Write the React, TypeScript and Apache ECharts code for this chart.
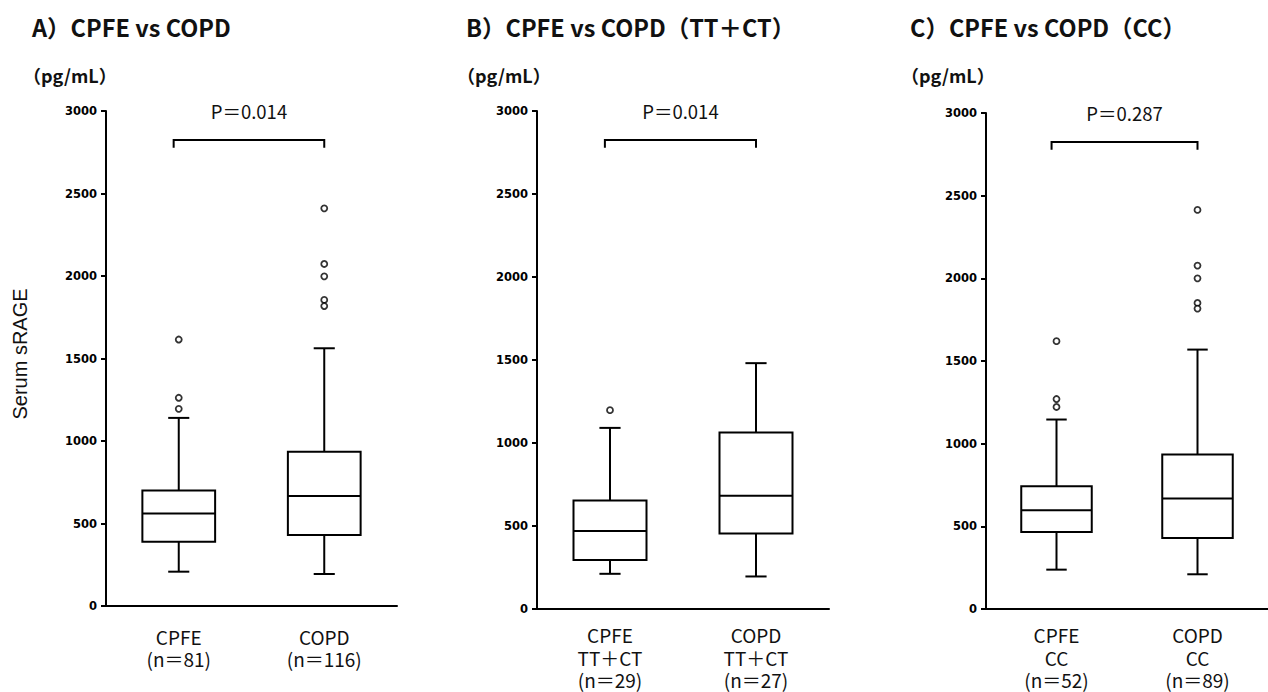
import React, { useEffect, useRef } from "react";
import * as echarts from "echarts";

// ---------- data ----------
const titles = ["A）CPFE vs COPD", "B）CPFE vs COPD（TT＋CT）", "C）CPFE vs COPD（CC）"];
const unitLabel = "（pg/mL）";
const yAxisTitle = "Serum sRAGE";
const yTicks = { min: 0, max: 3000, interval: 500 };

const categoriesA = ["CPFE\n(n＝81)", "COPD\n(n＝116)"];
const categoriesB = ["CPFE\nTT＋CT\n(n＝29)", "COPD\nTT＋CT\n(n＝27)"];
const categoriesC = ["CPFE\nCC\n(n＝52)", "COPD\nCC\n(n＝89)"];

// [min whisker, Q1, median, Q3, max whisker]
const boxesA = [[208, 390, 560, 700, 1140], [194, 430, 667, 935, 1562]];
const boxesB = [[212, 295, 470, 654, 1091], [196, 455, 682, 1063, 1481]];
const boxesC = [[238, 466, 597, 742, 1146], [210, 430, 668, 934, 1569]];

// [category index, value]
const outliersA = [[0, 1195], [0, 1262], [0, 1615], [1, 2410], [1, 2073], [1, 1998], [1, 1855], [1, 1818]];
const outliersB = [[0, 1198]];
const outliersC = [[0, 1222], [0, 1270], [0, 1620], [1, 2414], [1, 2077], [1, 2000], [1, 1851], [1, 1817]];

const pValues = ["P＝0.014", "P＝0.014", "P＝0.287"];
// bracket: [top value, end tick value, label value]
const bracket = [2825, 2778, 3000];

const CJK = "'Noto Sans CJK JP', 'Noto Sans', sans-serif";

export default function App() {
  const ref = useRef<HTMLDivElement>(null);
  useEffect(() => {
    if (!ref.current) return;
    const chart = echarts.init(ref.current, undefined, { renderer: "svg" });

    const grids = [
      { left: 106, top: 111, width: 291, height: 495 },
      { left: 537, top: 111, width: 292, height: 498 },
      { left: 986, top: 113, width: 292, height: 496 },
    ];
    const cats = [categoriesA, categoriesB, categoriesC];
    const boxes = [boxesA, boxesB, boxesC];
    const outs = [outliersA, outliersB, outliersC];
    const labelMargins = [19, 14.5, 14.5];

    const xAxes = cats.map((c, i) => ({
      type: "category",
      gridIndex: i,
      data: c,
      boundaryGap: true,
      axisLine: { show: true, lineStyle: { color: "#000", width: 2 } },
      axisTick: { show: false },
      axisLabel: {
        color: "#111",
        fontSize: 19,
        lineHeight: 22.5,
        fontFamily: CJK,
        margin: labelMargins[i],
        interval: 0,
      },
      splitLine: { show: false },
    }));
    const yAxes = cats.map((_, i) => ({
      type: "value",
      gridIndex: i,
      min: yTicks.min,
      max: yTicks.max,
      interval: yTicks.interval,
      axisLine: { show: true, lineStyle: { color: "#000", width: 2 } },
      axisTick: { show: true, length: 5, lineStyle: { color: "#000", width: 2 } },
      axisLabel: {
        color: "#000",
        fontSize: 11.5,
        fontWeight: "bold",
        fontFamily: "'DejaVu Sans', sans-serif",
        margin: 9,
        formatter: (v: number) => String(v),
      },
      splitLine: { show: false },
    }));

    const series: any[] = [];
    boxes.forEach((b, i) => {
      series.push({
        type: "custom",
        xAxisIndex: i,
        yAxisIndex: i,
        data: b.map((v, k) => [k, ...v]),
        renderItem: (params: any, api: any) => {
          const c = api.value(0);
          const band = api.size([1, 0])[0];
          const bw = band * 0.5;
          const cw = band * 0.145;
          const x = api.coord([c, 0])[0];
          const y = (k: number) => api.coord([c, api.value(k)])[1];
          const yMin = y(1), yQ1 = y(2), yMed = y(3), yQ3 = y(4), yMax = y(5);
          const ls = { stroke: "#000", lineWidth: 2 };
          return {
            type: "group",
            children: [
              { type: "line", shape: { x1: x, y1: yMin, x2: x, y2: yQ1 }, style: ls },
              { type: "line", shape: { x1: x, y1: yQ3, x2: x, y2: yMax }, style: ls },
              { type: "line", shape: { x1: x - cw / 2, y1: yMin, x2: x + cw / 2, y2: yMin }, style: ls },
              { type: "line", shape: { x1: x - cw / 2, y1: yMax, x2: x + cw / 2, y2: yMax }, style: ls },
              { type: "rect", shape: { x: x - bw / 2, y: yQ3, width: bw, height: yQ1 - yQ3 }, style: { fill: "#fff", stroke: "#000", lineWidth: 2 } },
              { type: "line", shape: { x1: x - bw / 2, y1: yMed, x2: x + bw / 2, y2: yMed }, style: ls },
            ],
          };
        },
        z: 2,
      });
      series.push({
        type: "scatter",
        xAxisIndex: i,
        yAxisIndex: i,
        data: outs[i],
        symbol: "circle",
        symbolSize: 6,
        itemStyle: { color: "#fff", borderColor: "#000", borderWidth: 1.8 },
        z: 3,
      });
      series.push({
        type: "custom",
        xAxisIndex: i,
        yAxisIndex: i,
        data: [[0, 1, bracket[0], bracket[1], bracket[2]]],
        renderItem: (params: any, api: any) => {
          const band = api.size([1, 0])[0];
          const off = band * 0.035;
          const x0 = api.coord([api.value(0), 0])[0] - off;
          const x1 = api.coord([api.value(1), 0])[0];
          const yt = api.coord([0, api.value(2)])[1];
          const ye = api.coord([0, api.value(3)])[1];
          const yl = api.coord([0, api.value(4)])[1];
          return {
            type: "group",
            children: [
              {
                type: "polyline",
                shape: { points: [[x0, ye], [x0, yt], [x1, yt], [x1, ye]] },
                style: { stroke: "#000", lineWidth: 2, fill: "none" },
              },
              {
                type: "text",
                style: {
                  text: pValues[i],
                  x: (x0 + x1) / 2,
                  y: yl,
                  align: "center",
                  verticalAlign: "middle",
                  fontSize: 18.5,
                  fontFamily: CJK,
                  fill: "#111",
                },
              },
            ],
          };
        },
        z: 2,
      });
    });

    const titleX = [32, 466, 910];
    const graphic: any[] = [];
    titles.forEach((t, i) => {
      graphic.push({
        type: "text",
        x: titleX[i],
        y: 27,
        style: {
          text: t,
          fontSize: 23.5,
          fontWeight: "bold",
          fontFamily: CJK,
          fill: "#111",
          align: "left",
          verticalAlign: "middle",
        },
      });
      graphic.push({
        type: "text",
        x: titleX[i] - 9,
        y: 75,
        style: {
          text: unitLabel,
          fontSize: 18,
          fontWeight: "bold",
          fontFamily: CJK,
          fill: "#111",
          align: "left",
          verticalAlign: "middle",
        },
      });
    });
    graphic.push({
      type: "text",
      x: 19.5,
      y: 354,
      rotation: Math.PI / 2,
      style: {
        text: yAxisTitle,
        fontSize: 20,
        fontFamily: "'Liberation Sans', Arial, sans-serif",
        fill: "#111",
        align: "center",
        verticalAlign: "middle",
      },
    });

    chart.setOption({
      animation: false,
      backgroundColor: "#fff",
      grid: grids,
      xAxis: xAxes,
      yAxis: yAxes,
      series,
      graphic,
    });
    return () => chart.dispose();
  }, []);
  return (
    <div
      ref={ref}
      style={{ position: "absolute", left: 0, top: 0, width: 1268, height: 692 }}
    />
  );
}
